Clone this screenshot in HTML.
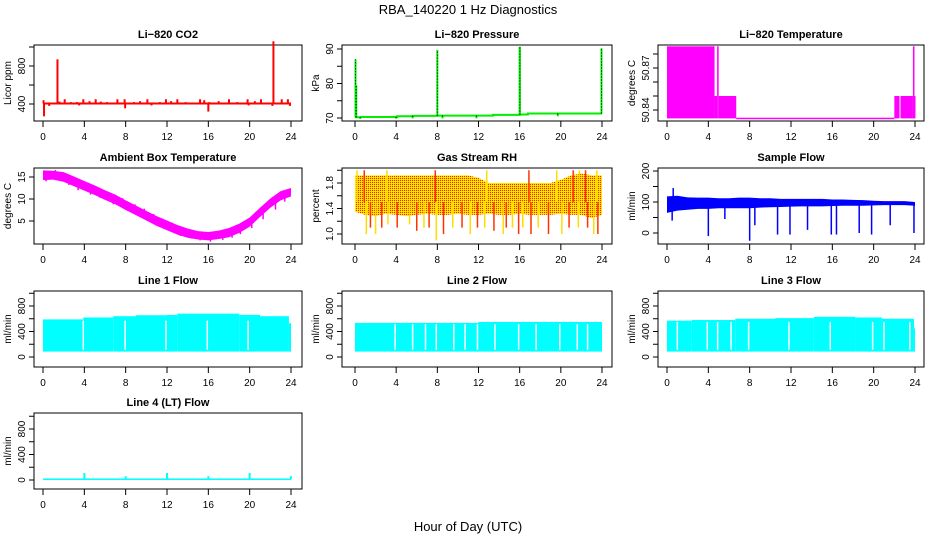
<!DOCTYPE html>
<html><head><meta charset="utf-8"><style>
html,body{margin:0;padding:0;background:#fff;}
svg text{font-family:"Liberation Sans",sans-serif;}
</style></head><body>
<svg id="chart" width="936" height="540" viewBox="0 0 936 540" xmlns="http://www.w3.org/2000/svg">
<defs>
<pattern id="rhpat" width="2" height="2" patternUnits="userSpaceOnUse">
<rect width="2" height="2" fill="#ffdd00"/><rect width="1" height="1" fill="#ff2000"/><rect x="1" y="1" width="1" height="1" fill="#ffee00"/>
</pattern>
</defs>
<text x="468" y="14" text-anchor="middle" font-size="13">RBA_140220  1 Hz Diagnostics</text>
<text x="468" y="531" text-anchor="middle" font-size="13">Hour of Day (UTC)</text>
</svg>
<script>
// ---- data ----
const xTicks = [0,4,8,12,16,20,24];
const co2Base = 405;
const co2SpikeHours = [0.05,1.4,1.6,2.1,2.7,3.3,3.9,4.5,5.1,5.6,6.2,7.2,7.9,8.8,9.4,10.1,11.3,11.9,12.4,13.0,13.8,15.2,15.6,16.1,17.0,18.0,18.8,19.8,20.5,21.1,22.3,23.1,23.7,0.1,0.6,3.5,7.95,10.5,16.0,19.9,22.2,23.9];
const co2SpikeValues = [440,870,425,450,420,420,450,430,450,425,420,450,450,420,430,450,420,450,430,450,420,450,440,420,430,450,420,450,430,450,1060,450,450,270,380,385,355,385,320,385,380,380];
const presStepHours = [0,0.6,4.1,5.6,8,13.4,16,16.8,24];
const presStepValues = [70.2,70.3,70.5,70.6,70.7,70.9,71.0,71.3,71.3];
const presSpikeHours = [0.05,0.12,8.0,16.0,16.02,23.95,0.5,4.0,5.6,8.5,11.8,19.7];
const presSpikeValues = [87,79.5,89.7,90.6,90.6,90.2,69.8,69.8,69.9,69.9,69.9,70.5];
const t820Starts = [0,4.6,4.85,5.0,6.7,22.0,22.6,23.8,23.95];
const t820Ends = [4.6,4.85,5.0,6.7,22.0,22.5,23.8,23.95,24];
const t820Tops = [50.8855,50.85,50.8855,50.85,50.8345,50.85,50.85,50.8855,50.85];
const t820Bottom = 50.834;
const hours = [0,1,2,3,4,5,6,7,8,9,10,11,12,13,14,15,16,17,18,19,20,21,22,23,24];
const ambHi = [16.5,16.4,16.1,15.1,14.1,13.1,12.0,11.0,9.7,8.5,7.3,6.1,5.1,4.1,3.3,2.7,2.5,2.8,3.4,4.4,5.8,8.0,10.1,11.8,12.5];
const ambLo = [14.3,14.4,13.9,12.9,11.9,10.9,9.8,8.8,7.5,6.3,5.1,3.9,2.9,1.9,1.2,0.8,0.6,0.9,1.3,2.3,3.7,5.9,8.0,9.7,10.6];
const ambSpikeHours = [0.3,1.2,2.5,3.4,4.6,5.5,6.8,7.7,8.9,9.8,10.7,11.6,12.5,13.3,14.4,15.2,16.2,17.4,18.3,19.1,20.2,21.3,22.5,23.4];
const ambSpikeValues = [14.0,14.6,13.2,12.0,11.0,10.3,8.8,8.2,6.8,5.8,4.6,3.5,2.6,1.6,1.0,0.6,0.3,0.7,1.2,2.0,3.4,5.4,7.6,9.4];
const rhHi = [1.92,1.92,1.92,1.92,1.92,1.92,1.92,1.92,1.92,1.92,1.92,1.92,1.88,1.8,1.8,1.8,1.8,1.8,1.8,1.8,1.85,1.92,1.95,1.92,1.92];
const rhLo = [1.35,1.3,1.28,1.32,1.3,1.28,1.3,1.32,1.3,1.3,1.32,1.3,1.3,1.32,1.3,1.3,1.32,1.3,1.3,1.3,1.32,1.3,1.3,1.25,1.3];
const rhSpikeHours = [1.1,1.5,2.0,2.6,3.2,4.1,5.3,6.0,6.7,7.2,7.9,8.6,9.5,10.4,11.2,11.9,12.6,13.5,14.4,14.7,15.3,15.9,16.3,17.1,17.8,18.8,20.1,20.8,21.7,22.6,23.2,23.6,0.2,0.9,3.1,7.8,12.8,16.9,19.6,21.2,21.8,22.4,23.5];
const rhSpikeValues = [1.0,1.1,1.0,1.1,1.15,1.1,1.15,1.05,1.1,1.1,0.9,1.0,1.1,1.1,1.0,1.1,1.1,1.05,1.0,1.1,1.1,1.0,1.1,1.0,1.1,1.0,1.0,1.1,1.1,1.1,1.0,1.0,2.0,2.0,2.0,2.0,2.0,2.0,2.0,2.0,2.0,2.0,2.0];
const sfHi = [118,120,115,114,114,112,112,114,114,112,112,110,110,110,110,110,108,108,107,106,104,103,103,103,100];
const sfLo = [65,72,75,78,78,80,80,80,80,82,83,84,85,86,86,86,87,88,88,88,89,90,90,90,88];
const sfSpikeHours = [0.5,0.6,4.0,5.6,8.0,8.5,10.7,11.9,13.6,15.9,16.4,18.6,19.8,21.6,23.9];
const sfSpikeValues = [40,145,-10,45,-25,25,-5,-5,10,-5,-5,0,-5,25,0];
const l1Starts = [0,3.9,6.8,9,12,13,19,21,23.8];
const l1Ends = [3.9,6.8,9,12,13,19,21,23.8,24];
const l1Tops = [590,620,640,655,660,680,660,640,530];
const l1Gaps = [3.9,7.95,11.9,15.9,19.85];
const l2Starts = [0,12];
const l2Ends = [12,24];
const l2Tops = [535,550];
const l2Gaps = [3.9,5.6,6.85,7.9,9.6,10.7,11.9,13.6,15.9,17.6,19.9,21.6,22.6];
const l3Starts = [0,2.4,6.6,10.5,14.2,18.2,20.8,23.9];
const l3Ends = [2.4,6.6,10.5,14.2,18.2,20.8,23.9,24];
const l3Tops = [570,580,600,610,630,620,600,450];
const l3Gaps = [1.0,3.9,4.9,6.2,7.9,11.8,15.8,19.9,21.0,23.5];
const lineLo = 85;
const l4Base = 12;
const l4SpikeHours = [4,8,12,16,20,24];
const l4SpikeValues = [110,60,110,60,110,60];

// ---- layout ----
const NS = 'http://www.w3.org/2000/svg';
const svg = document.getElementById('chart');
const C1={L:34,R:302,x0:43,x24:291}, C2={L:342,R:612,x0:355,x24:602}, C3={L:658,R:924,x0:667,x24:915};
const R1={T:45,B:121}, R2={T:168,B:244}, R3={T:291,B:367}, R4={T:413,B:489};
function panel(c,r,v1,p1,v2,p2,ticks,labels,title,ylab,name){
  return {L:c.L,R:c.R,x0:c.x0,x24:c.x24,T:r.T,B:r.B,v1,p1,v2,p2,ticks,labels,title,ylab,name};
}
const P = {
  co2: panel(C1,R1,400,104,800,66,[400,600,800,1000],['400','800'],'Li−820 CO2','Licor ppm','co2'),
  pres: panel(C2,R1,70,118,90,49,[70,75,80,85,90],['70','80','90'],'Li−820 Pressure','kPa','pressure'),
  t820: panel(C3,R1,50.84,110,50.87,68,[50.84,50.85,50.86,50.87,50.88],['50.84','50.87'],'Li−820 Temperature','degrees C','li820-temp'),
  amb: panel(C1,R2,5,221,15,177,[5,10,15],['5','10','15'],'Ambient Box Temperature','degrees C','ambient-temp'),
  rh: panel(C2,R2,1.0,234,1.8,183,[1.0,1.2,1.4,1.6,1.8,2.0],['1.0','1.4','1.8'],'Gas Stream RH','percent','gas-rh'),
  sf: panel(C3,R2,0,233,200,171,[0,50,100,150,200],['0','100','200'],'Sample Flow','ml/min','sample-flow'),
  l1: panel(C1,R3,0,357,800,306,[0,200,400,600,800,1000],['0','400','800'],'Line 1 Flow','ml/min','line1-flow'),
  l2: panel(C2,R3,0,357,800,306,[0,200,400,600,800,1000],['0','400','800'],'Line 2 Flow','ml/min','line2-flow'),
  l3: panel(C3,R3,0,357,800,306,[0,200,400,600,800,1000],['0','400','800'],'Line 3 Flow','ml/min','line3-flow'),
  l4: panel(C1,R4,0,480,800,429,[0,200,400,600,800,1000],['0','400','800'],'Line 4 (LT) Flow','ml/min','line4-flow')
};
function X(p,h){return p.x0+(p.x24-p.x0)*h/24;}
function Y(p,v){return p.p1+(p.p2-p.p1)*(v-p.v1)/(p.v2-p.v1);}
function el(tag,attrs,parent){const e=document.createElementNS(NS,tag);for(const k in attrs)e.setAttribute(k,attrs[k]);(parent||svg).appendChild(e);return e;}

function axes(p){
  const g=el('g',{});
  
  
  const box=el('rect',{x:p.L,y:p.T,width:p.R-p.L,height:p.B-p.T,fill:'none',stroke:'#000','stroke-width':1},g);
  
  
  const t=el('text',{x:(p.L+p.R)/2,y:p.T-7,'text-anchor':'middle','font-size':11,'font-weight':'bold'},g);
  t.textContent=p.title;
  
  
  const yl=el('text',{transform:`translate(${p.L-23},${(p.T+p.B)/2}) rotate(-90)`,'text-anchor':'middle','font-size':10},g);
  yl.textContent=p.ylab;
  
  
  el('line',{x1:p.x0,x2:p.x24,y1:p.B,y2:p.B,stroke:'#000'},g);
  xTicks.forEach(h=>{
    const x=X(p,h);
    el('line',{x1:x,x2:x,y1:p.B,y2:p.B+6,stroke:'#000'},g);
    const tl=el('text',{x:x,y:p.B+19,'text-anchor':'middle','font-size':10},g);
    tl.textContent=h;
    
    
  });
  p.ticks.forEach(v=>{
    const y=Y(p,v);
    el('line',{x1:p.L-5,x2:p.L,y1:y,y2:y,stroke:'#000'},g);
  });
  p.labels.forEach(s=>{
    const y=Y(p,parseFloat(s));
    const tl=el('text',{transform:`translate(${p.L-9},${y}) rotate(-90)`,'text-anchor':'middle','font-size':10},g);
    tl.textContent=s;
    
    
  });
  return g;
}
function vline(p,h,v1,v2,color,w,g){
  return el('line',{x1:X(p,h),x2:X(p,h),y1:Y(p,v1),y2:Y(p,v2),stroke:color,'stroke-width':w||1},g);
}
function band(p,hi,lo,fill,g){
  let d='M'+hours.map((h,i)=>X(p,h)+','+Y(p,hi[i])).join('L');
  d+='L'+hours.slice().reverse().map((h,j)=>X(p,h)+','+Y(p,lo[hours.length-1-j])).join('L')+'Z';
  return el('path',{d:d,fill:fill,stroke:'none'},g);
}

// CO2
{const p=P.co2;const g=axes(p);
 co2SpikeHours.forEach((h,i)=>{const m=vline(p,h,co2Base,co2SpikeValues[i],'#ff0000',2,g);
  
  });
 const b=el('line',{x1:X(p,0),x2:X(p,24),y1:Y(p,co2Base),y2:Y(p,co2Base),stroke:'#ff0000','stroke-width':2},g);
 
 }
// Pressure
{const p=P.pres;const g=axes(p);
 let d='';presStepHours.forEach((h,i)=>{d+=(i?'L':'M')+X(p,h)+','+Y(p,i?presStepValues[i-1]:presStepValues[0])+'L'+X(p,h)+','+Y(p,presStepValues[i]);});
 const s=el('path',{d:d,fill:'none',stroke:'#00ee00','stroke-width':2},g);
 
 
 presSpikeHours.forEach((h,i)=>{
  const base=presStepValues[Math.max(0,presStepHours.findIndex(x=>x>h)-1)];
  const m=vline(p,h,base,presSpikeValues[i],'#00ee00',2,g);
  
  
  el('line',{x1:X(p,h),x2:X(p,h),y1:Y(p,base),y2:Y(p,presSpikeValues[i]),stroke:'#000','stroke-width':1,'stroke-dasharray':'1,2'},g);});}
// Li-820 temp
{const p=P.t820;const g=axes(p);
 t820Starts.forEach((s,i)=>{
  const r=el('rect',{x:X(p,s),y:Y(p,t820Tops[i]),width:Math.max(1,X(p,t820Ends[i])-X(p,s)),height:Math.max(1.5,Y(p,t820Bottom)-Y(p,t820Tops[i])),fill:'#ff00ff'},g);
  
  });}
// Ambient
{const p=P.amb;const g=axes(p);
 const b=band(p,ambHi,ambLo,'#ff00ff',g);
 
 
 ambSpikeHours.forEach((h,i)=>{const m=vline(p,h,ambSpikeValues[i]+2,ambSpikeValues[i],'#ff00ff',1.5,g);
  
  });}
// RH
{const p=P.rh;const g=axes(p);
 const b=band(p,rhHi,rhLo,'url(#rhpat)',g);
 
 
 rhSpikeHours.forEach((h,i)=>{const m=vline(p,h,1.5,rhSpikeValues[i],i%2?'#ff3300':'#ffdd00',1.5,g);
  
  });}
// Sample flow
{const p=P.sf;const g=axes(p);
 const b=band(p,sfHi,sfLo,'#0000ff',g);
 
 
 sfSpikeHours.forEach((h,i)=>{const m=vline(p,h,95,sfSpikeValues[i],'#0000ff',1.5,g);
  
  });}
// Line flows
function lineFlow(p,starts,ends,tops,gaps){
 const g=axes(p);
 starts.forEach((s,i)=>{
  const r=el('rect',{x:X(p,s),y:Y(p,tops[i]),width:X(p,ends[i])-X(p,s),height:Y(p,lineLo)-Y(p,tops[i]),fill:'#00ffff'},g);
  
  });
 gaps.forEach(h=>{const m=vline(p,h,lineLo+30,tops[0]-20,'#ffffff',1.5,g);
  
  });
}
lineFlow(P.l1,l1Starts,l1Ends,l1Tops,l1Gaps);
lineFlow(P.l2,l2Starts,l2Ends,l2Tops,l2Gaps);
lineFlow(P.l3,l3Starts,l3Ends,l3Tops,l3Gaps);
// Line 4
{const p=P.l4;const g=axes(p);
 const b=el('rect',{x:X(p,0),y:Y(p,l4Base+12),width:X(p,24)-X(p,0),height:Y(p,l4Base-12)-Y(p,l4Base+12),fill:'#00ffff'},g);
 
 
 l4SpikeHours.forEach((h,i)=>{const m=vline(p,h,l4Base,l4SpikeValues[i],'#00ffff',2,g);
  
  });}
</script>
</body></html>
